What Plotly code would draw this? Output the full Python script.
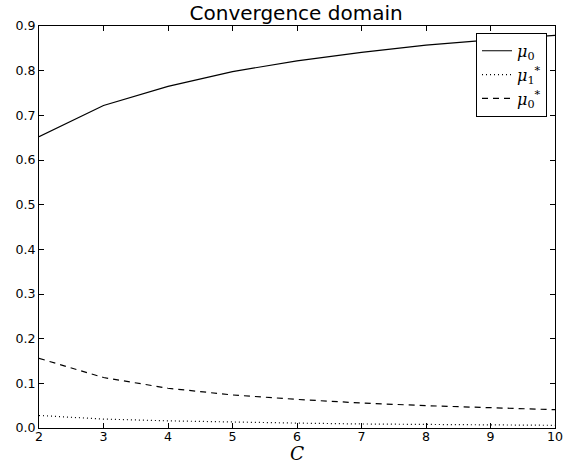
import plotly.graph_objects as go

C = [2, 3, 4, 5, 6, 7, 8, 9, 10]
mu0 = [0.652, 0.722, 0.765, 0.798, 0.822, 0.841, 0.857, 0.869, 0.879]
mu1_star = [0.028, 0.020, 0.016, 0.013, 0.011, 0.009, 0.008, 0.007, 0.006]
mu0_star = [0.156, 0.113, 0.089, 0.074, 0.064, 0.056, 0.050, 0.045, 0.041]

x_ticks = [2, 3, 4, 5, 6, 7, 8, 9, 10]
y_ticks = [0.0, 0.1, 0.2, 0.3, 0.4, 0.5, 0.6, 0.7, 0.8, 0.9]

fig = go.Figure()
fig.add_trace(go.Scatter(x=C, y=mu0, mode="lines", name="<i>μ</i><sub>0</sub>",
                         line=dict(color="black", width=1.2, dash="solid")))
fig.add_trace(go.Scatter(x=C, y=mu1_star, mode="lines", name="<i>μ</i><sub>1</sub><sup>*</sup>",
                         line=dict(color="black", width=1.2, dash="1px,3px")))
fig.add_trace(go.Scatter(x=C, y=mu0_star, mode="lines", name="<i>μ</i><sub>0</sub><sup>*</sup>",
                         line=dict(color="black", width=1.2, dash="6px,5px")))

axis_common = dict(showline=True, linecolor="black", linewidth=1, mirror="allticks",
                   ticks="inside", ticklen=5, tickcolor="black", showgrid=False,
                   zeroline=False, tickfont=dict(family="DejaVu Sans", size=12.6, color="black"))

fig.update_layout(
    width=584, height=466,
    margin=dict(l=39, r=29, t=26, b=38, autoexpand=False),
    paper_bgcolor="white", plot_bgcolor="white",
    title=dict(text="Convergence domain", x=0.507, xanchor="center", y=0.972, yanchor="middle",
               font=dict(family="DejaVu Sans", size=20, color="black")),
    xaxis=dict(range=[2, 10], tickvals=x_ticks, ticktext=[str(v) for v in x_ticks],
               ticklabelstandoff=-3, **axis_common),
    yaxis=dict(range=[0, 0.9], tickvals=y_ticks, ticktext=[f"{v:.1f}" for v in y_ticks],
               **axis_common),
    legend=dict(x=0.9845, y=0.983, xanchor="right", yanchor="top",
                bordercolor="black", borderwidth=1, bgcolor="white",
                font=dict(family="DejaVu Serif", size=16, color="black"),
                itemwidth=30, tracegroupgap=0),
    showlegend=True,
    annotations=[dict(text="<i>C</i>", xref="paper", yref="paper", x=0.5, y=-0.0935,
                      xanchor="center", yanchor="bottom", showarrow=False,
                      font=dict(family="DejaVu Serif", size=18.5, color="black"))],
)

fig.write_html("out.html", config={"displayModeBar": False},
               post_script="document.body.style.margin='0';")
